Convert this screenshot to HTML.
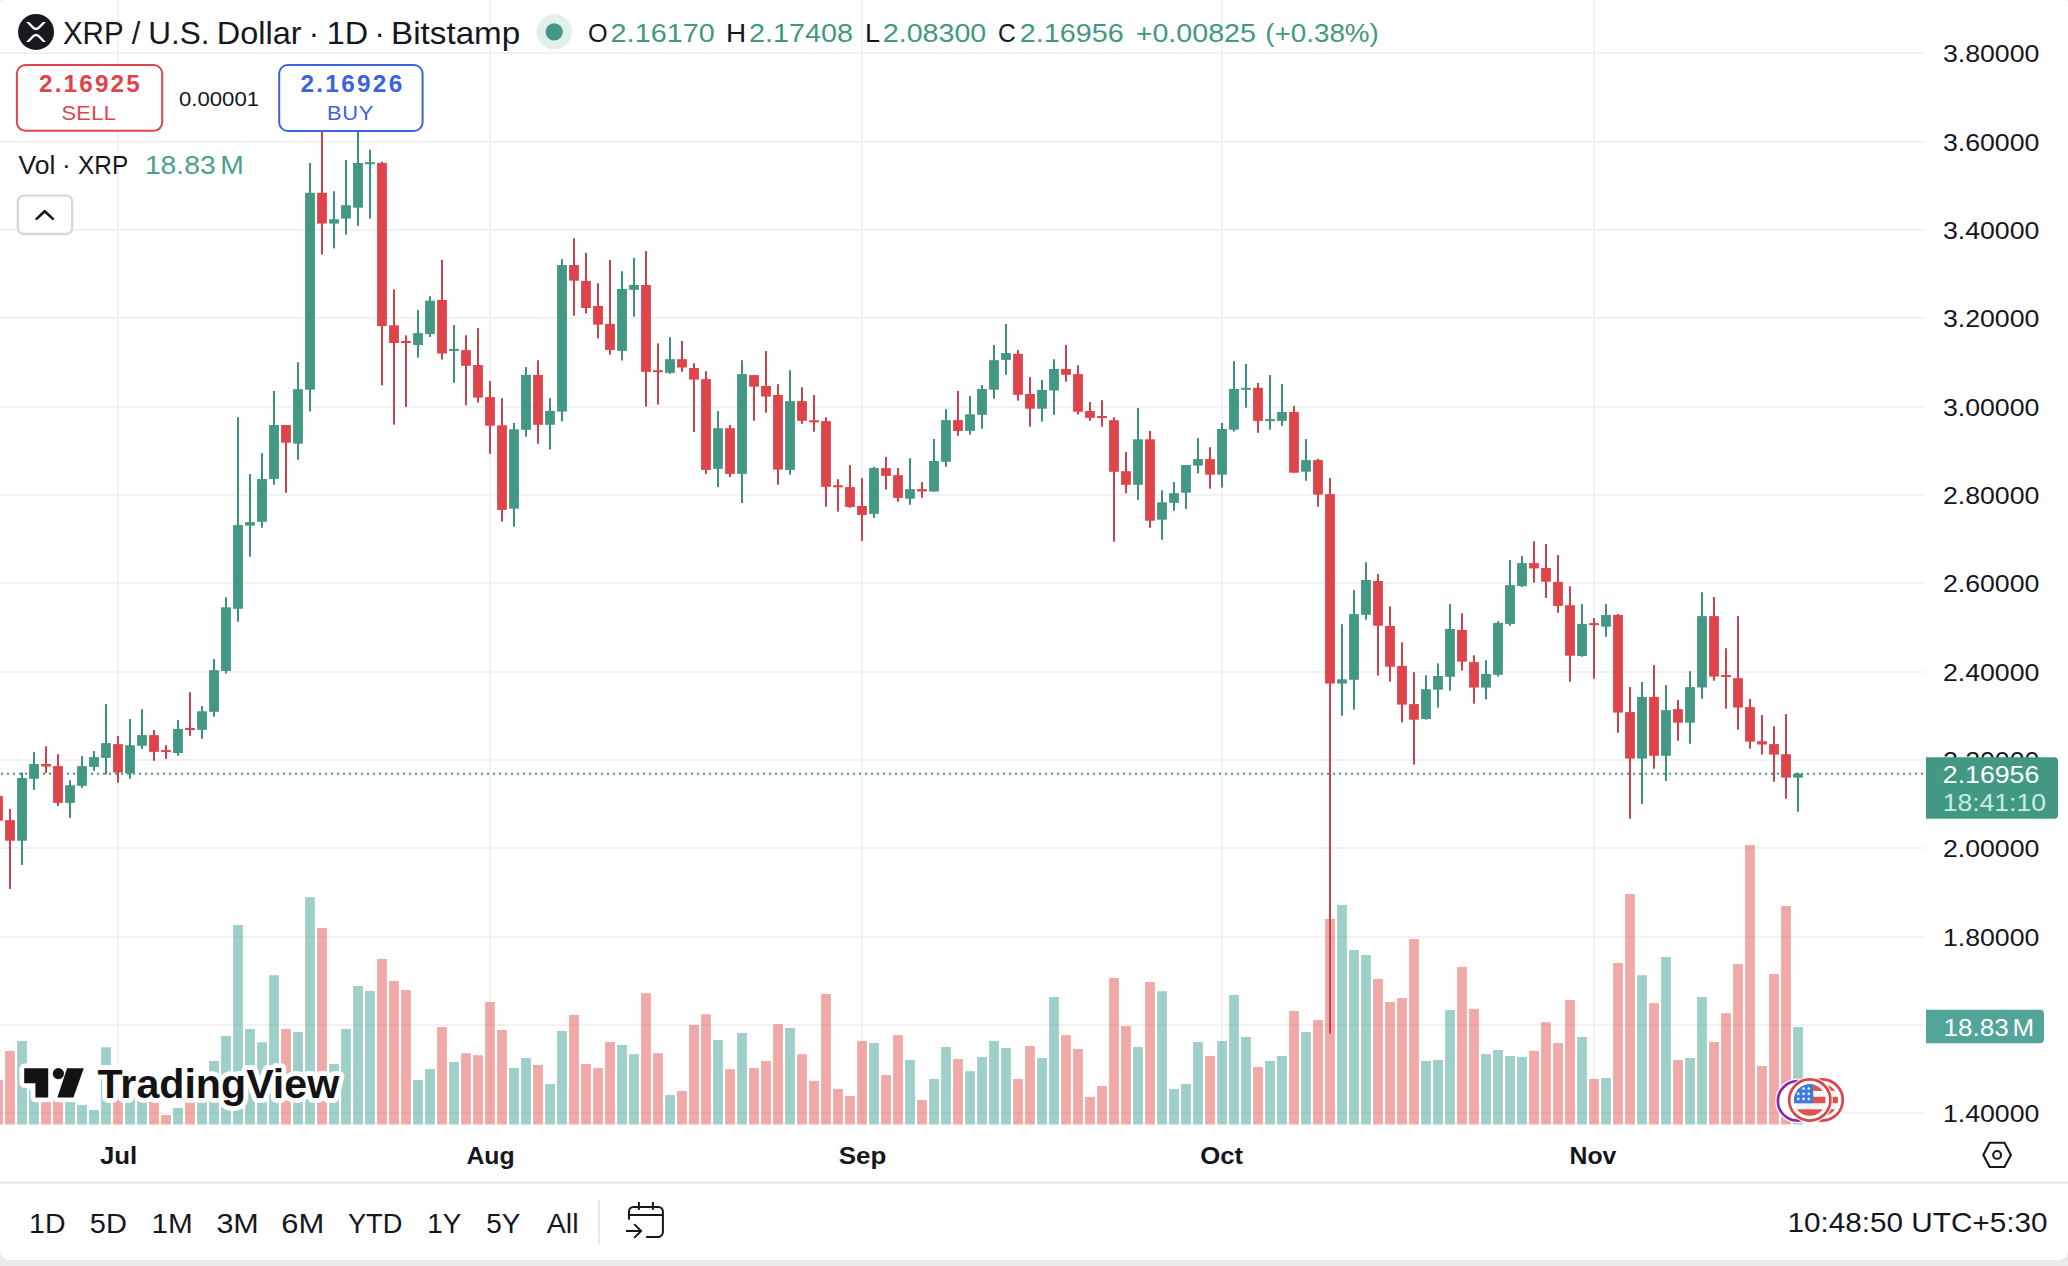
<!DOCTYPE html>
<html lang="en"><head><meta charset="utf-8"><title>XRP / U.S. Dollar · 1D · Bitstamp — TradingView</title>
<style>
html,body{margin:0;padding:0;background:#EAEAEC;}
body{width:2068px;height:1266px;overflow:hidden;position:relative;font-family:"Liberation Sans",sans-serif;}
#card{position:absolute;left:0;top:0;width:2068px;height:1260px;background:#fff;border-radius:4px 4px 9px 9px;overflow:hidden;}
svg{position:absolute;left:0;top:0;display:block;}
text{font-family:"Liberation Sans",sans-serif;}
.b{font-weight:bold;}
</style></head><body><div id="card">
<svg width="2068" height="1260" viewBox="0 0 2068 1260">
<g id="grid" fill="#F2F2F5">
<rect x="0" y="52" width="1924" height="2"/>
<rect x="0" y="141" width="1924" height="2"/>
<rect x="0" y="229" width="1924" height="2"/>
<rect x="0" y="317" width="1924" height="2"/>
<rect x="0" y="406" width="1924" height="2"/>
<rect x="0" y="494" width="1924" height="2"/>
<rect x="0" y="582" width="1924" height="2"/>
<rect x="0" y="671" width="1924" height="2"/>
<rect x="0" y="759" width="1924" height="2"/>
<rect x="0" y="847" width="1924" height="2"/>
<rect x="0" y="936" width="1924" height="2"/>
<rect x="0" y="1024" width="1924" height="2"/>
<rect x="0" y="1112" width="1924" height="2"/>
<rect x="117" y="0" width="2" height="1124"/>
<rect x="489" y="0" width="2" height="1124"/>
<rect x="861" y="0" width="2" height="1124"/>
<rect x="1221" y="0" width="2" height="1124"/>
<rect x="1593" y="0" width="2" height="1124"/>
</g>
<g id="volume">
<rect x="-6.9" y="1080.0" width="9.8" height="44.5" fill="rgba(226,84,80,0.5)"/>
<rect x="5.1" y="1051.0" width="9.8" height="73.5" fill="rgba(226,84,80,0.5)"/>
<rect x="17.1" y="1041.0" width="9.8" height="83.5" fill="rgba(62,160,148,0.5)"/>
<rect x="29.1" y="1090.0" width="9.8" height="34.5" fill="rgba(62,160,148,0.5)"/>
<rect x="41.1" y="1095.0" width="9.8" height="29.5" fill="rgba(226,84,80,0.5)"/>
<rect x="53.1" y="1095.0" width="9.8" height="29.5" fill="rgba(226,84,80,0.5)"/>
<rect x="65.1" y="1098.0" width="9.8" height="26.5" fill="rgba(62,160,148,0.5)"/>
<rect x="77.1" y="1105.0" width="9.8" height="19.5" fill="rgba(62,160,148,0.5)"/>
<rect x="89.1" y="1110.0" width="9.8" height="14.5" fill="rgba(62,160,148,0.5)"/>
<rect x="101.1" y="1047.3" width="9.8" height="77.2" fill="rgba(62,160,148,0.5)"/>
<rect x="113.1" y="1092.0" width="9.8" height="32.5" fill="rgba(226,84,80,0.5)"/>
<rect x="125.1" y="1085.0" width="9.8" height="39.5" fill="rgba(62,160,148,0.5)"/>
<rect x="137.1" y="1090.0" width="9.8" height="34.5" fill="rgba(62,160,148,0.5)"/>
<rect x="149.1" y="1095.0" width="9.8" height="29.5" fill="rgba(226,84,80,0.5)"/>
<rect x="161.1" y="1115.0" width="9.8" height="9.5" fill="rgba(226,84,80,0.5)"/>
<rect x="173.1" y="1108.0" width="9.8" height="16.5" fill="rgba(62,160,148,0.5)"/>
<rect x="185.1" y="1098.0" width="9.8" height="26.5" fill="rgba(226,84,80,0.5)"/>
<rect x="197.1" y="1095.0" width="9.8" height="29.5" fill="rgba(62,160,148,0.5)"/>
<rect x="209.1" y="1061.0" width="9.8" height="63.5" fill="rgba(62,160,148,0.5)"/>
<rect x="221.1" y="1036.0" width="9.8" height="88.5" fill="rgba(62,160,148,0.5)"/>
<rect x="233.1" y="925.0" width="9.8" height="199.5" fill="rgba(62,160,148,0.5)"/>
<rect x="245.1" y="1029.0" width="9.8" height="95.5" fill="rgba(62,160,148,0.5)"/>
<rect x="257.1" y="1042.3" width="9.8" height="82.2" fill="rgba(62,160,148,0.5)"/>
<rect x="269.1" y="975.2" width="9.8" height="149.3" fill="rgba(62,160,148,0.5)"/>
<rect x="281.1" y="1029.0" width="9.8" height="95.5" fill="rgba(226,84,80,0.5)"/>
<rect x="293.1" y="1032.0" width="9.8" height="92.5" fill="rgba(62,160,148,0.5)"/>
<rect x="305.1" y="897.2" width="9.8" height="227.3" fill="rgba(62,160,148,0.5)"/>
<rect x="317.1" y="928.0" width="9.8" height="196.5" fill="rgba(226,84,80,0.5)"/>
<rect x="329.1" y="1064.0" width="9.8" height="60.5" fill="rgba(62,160,148,0.5)"/>
<rect x="341.1" y="1029.0" width="9.8" height="95.5" fill="rgba(62,160,148,0.5)"/>
<rect x="353.1" y="986.0" width="9.8" height="138.5" fill="rgba(62,160,148,0.5)"/>
<rect x="365.1" y="991.0" width="9.8" height="133.5" fill="rgba(62,160,148,0.5)"/>
<rect x="377.1" y="959.0" width="9.8" height="165.5" fill="rgba(226,84,80,0.5)"/>
<rect x="389.1" y="981.0" width="9.8" height="143.5" fill="rgba(226,84,80,0.5)"/>
<rect x="401.1" y="990.0" width="9.8" height="134.5" fill="rgba(226,84,80,0.5)"/>
<rect x="413.1" y="1080.0" width="9.8" height="44.5" fill="rgba(62,160,148,0.5)"/>
<rect x="425.1" y="1069.0" width="9.8" height="55.5" fill="rgba(62,160,148,0.5)"/>
<rect x="437.1" y="1027.0" width="9.8" height="97.5" fill="rgba(226,84,80,0.5)"/>
<rect x="449.1" y="1062.0" width="9.8" height="62.5" fill="rgba(62,160,148,0.5)"/>
<rect x="461.1" y="1053.2" width="9.8" height="71.3" fill="rgba(226,84,80,0.5)"/>
<rect x="473.1" y="1055.2" width="9.8" height="69.3" fill="rgba(226,84,80,0.5)"/>
<rect x="485.1" y="1002.0" width="9.8" height="122.5" fill="rgba(226,84,80,0.5)"/>
<rect x="497.1" y="1030.0" width="9.8" height="94.5" fill="rgba(226,84,80,0.5)"/>
<rect x="509.1" y="1068.0" width="9.8" height="56.5" fill="rgba(62,160,148,0.5)"/>
<rect x="521.1" y="1058.0" width="9.8" height="66.5" fill="rgba(62,160,148,0.5)"/>
<rect x="533.1" y="1065.0" width="9.8" height="59.5" fill="rgba(226,84,80,0.5)"/>
<rect x="545.1" y="1084.0" width="9.8" height="40.5" fill="rgba(62,160,148,0.5)"/>
<rect x="557.1" y="1031.0" width="9.8" height="93.5" fill="rgba(62,160,148,0.5)"/>
<rect x="569.1" y="1015.0" width="9.8" height="109.5" fill="rgba(226,84,80,0.5)"/>
<rect x="581.1" y="1064.0" width="9.8" height="60.5" fill="rgba(226,84,80,0.5)"/>
<rect x="593.1" y="1068.0" width="9.8" height="56.5" fill="rgba(226,84,80,0.5)"/>
<rect x="605.1" y="1042.0" width="9.8" height="82.5" fill="rgba(226,84,80,0.5)"/>
<rect x="617.1" y="1045.0" width="9.8" height="79.5" fill="rgba(62,160,148,0.5)"/>
<rect x="629.1" y="1054.2" width="9.8" height="70.3" fill="rgba(62,160,148,0.5)"/>
<rect x="641.1" y="993.2" width="9.8" height="131.3" fill="rgba(226,84,80,0.5)"/>
<rect x="653.1" y="1053.2" width="9.8" height="71.3" fill="rgba(226,84,80,0.5)"/>
<rect x="665.1" y="1095.0" width="9.8" height="29.5" fill="rgba(62,160,148,0.5)"/>
<rect x="677.1" y="1091.0" width="9.8" height="33.5" fill="rgba(226,84,80,0.5)"/>
<rect x="689.1" y="1024.9" width="9.8" height="99.6" fill="rgba(226,84,80,0.5)"/>
<rect x="701.1" y="1014.3" width="9.8" height="110.2" fill="rgba(226,84,80,0.5)"/>
<rect x="713.1" y="1040.0" width="9.8" height="84.5" fill="rgba(62,160,148,0.5)"/>
<rect x="725.1" y="1069.2" width="9.8" height="55.3" fill="rgba(226,84,80,0.5)"/>
<rect x="737.1" y="1033.0" width="9.8" height="91.5" fill="rgba(62,160,148,0.5)"/>
<rect x="749.1" y="1068.0" width="9.8" height="56.5" fill="rgba(226,84,80,0.5)"/>
<rect x="761.1" y="1061.0" width="9.8" height="63.5" fill="rgba(226,84,80,0.5)"/>
<rect x="773.1" y="1024.2" width="9.8" height="100.3" fill="rgba(226,84,80,0.5)"/>
<rect x="785.1" y="1028.0" width="9.8" height="96.5" fill="rgba(62,160,148,0.5)"/>
<rect x="797.1" y="1054.2" width="9.8" height="70.3" fill="rgba(226,84,80,0.5)"/>
<rect x="809.1" y="1081.0" width="9.8" height="43.5" fill="rgba(226,84,80,0.5)"/>
<rect x="821.1" y="994.0" width="9.8" height="130.5" fill="rgba(226,84,80,0.5)"/>
<rect x="833.1" y="1089.0" width="9.8" height="35.5" fill="rgba(226,84,80,0.5)"/>
<rect x="845.1" y="1096.0" width="9.8" height="28.5" fill="rgba(226,84,80,0.5)"/>
<rect x="857.1" y="1041.0" width="9.8" height="83.5" fill="rgba(226,84,80,0.5)"/>
<rect x="869.1" y="1043.0" width="9.8" height="81.5" fill="rgba(62,160,148,0.5)"/>
<rect x="881.1" y="1075.0" width="9.8" height="49.5" fill="rgba(226,84,80,0.5)"/>
<rect x="893.1" y="1035.2" width="9.8" height="89.3" fill="rgba(226,84,80,0.5)"/>
<rect x="905.1" y="1060.0" width="9.8" height="64.5" fill="rgba(62,160,148,0.5)"/>
<rect x="917.1" y="1100.0" width="9.8" height="24.5" fill="rgba(226,84,80,0.5)"/>
<rect x="929.1" y="1079.0" width="9.8" height="45.5" fill="rgba(62,160,148,0.5)"/>
<rect x="941.1" y="1047.0" width="9.8" height="77.5" fill="rgba(62,160,148,0.5)"/>
<rect x="953.1" y="1059.0" width="9.8" height="65.5" fill="rgba(226,84,80,0.5)"/>
<rect x="965.1" y="1071.2" width="9.8" height="53.3" fill="rgba(62,160,148,0.5)"/>
<rect x="977.1" y="1057.0" width="9.8" height="67.5" fill="rgba(62,160,148,0.5)"/>
<rect x="989.1" y="1041.0" width="9.8" height="83.5" fill="rgba(62,160,148,0.5)"/>
<rect x="1001.1" y="1048.0" width="9.8" height="76.5" fill="rgba(62,160,148,0.5)"/>
<rect x="1013.1" y="1079.0" width="9.8" height="45.5" fill="rgba(226,84,80,0.5)"/>
<rect x="1025.1" y="1046.0" width="9.8" height="78.5" fill="rgba(226,84,80,0.5)"/>
<rect x="1037.1" y="1058.0" width="9.8" height="66.5" fill="rgba(62,160,148,0.5)"/>
<rect x="1049.1" y="997.0" width="9.8" height="127.5" fill="rgba(62,160,148,0.5)"/>
<rect x="1061.1" y="1035.2" width="9.8" height="89.3" fill="rgba(226,84,80,0.5)"/>
<rect x="1073.1" y="1049.0" width="9.8" height="75.5" fill="rgba(226,84,80,0.5)"/>
<rect x="1085.1" y="1097.0" width="9.8" height="27.5" fill="rgba(226,84,80,0.5)"/>
<rect x="1097.1" y="1086.0" width="9.8" height="38.5" fill="rgba(226,84,80,0.5)"/>
<rect x="1109.1" y="978.0" width="9.8" height="146.5" fill="rgba(226,84,80,0.5)"/>
<rect x="1121.1" y="1026.0" width="9.8" height="98.5" fill="rgba(226,84,80,0.5)"/>
<rect x="1133.1" y="1047.0" width="9.8" height="77.5" fill="rgba(62,160,148,0.5)"/>
<rect x="1145.1" y="982.0" width="9.8" height="142.5" fill="rgba(226,84,80,0.5)"/>
<rect x="1157.1" y="991.2" width="9.8" height="133.3" fill="rgba(62,160,148,0.5)"/>
<rect x="1169.1" y="1089.0" width="9.8" height="35.5" fill="rgba(62,160,148,0.5)"/>
<rect x="1181.1" y="1084.0" width="9.8" height="40.5" fill="rgba(62,160,148,0.5)"/>
<rect x="1193.1" y="1042.0" width="9.8" height="82.5" fill="rgba(62,160,148,0.5)"/>
<rect x="1205.1" y="1056.0" width="9.8" height="68.5" fill="rgba(226,84,80,0.5)"/>
<rect x="1217.1" y="1041.0" width="9.8" height="83.5" fill="rgba(62,160,148,0.5)"/>
<rect x="1229.1" y="995.0" width="9.8" height="129.5" fill="rgba(62,160,148,0.5)"/>
<rect x="1241.1" y="1037.0" width="9.8" height="87.5" fill="rgba(62,160,148,0.5)"/>
<rect x="1253.1" y="1067.0" width="9.8" height="57.5" fill="rgba(226,84,80,0.5)"/>
<rect x="1265.1" y="1061.0" width="9.8" height="63.5" fill="rgba(62,160,148,0.5)"/>
<rect x="1277.1" y="1056.0" width="9.8" height="68.5" fill="rgba(62,160,148,0.5)"/>
<rect x="1289.1" y="1011.0" width="9.8" height="113.5" fill="rgba(226,84,80,0.5)"/>
<rect x="1301.1" y="1032.0" width="9.8" height="92.5" fill="rgba(62,160,148,0.5)"/>
<rect x="1313.1" y="1020.0" width="9.8" height="104.5" fill="rgba(226,84,80,0.5)"/>
<rect x="1325.1" y="919.0" width="9.8" height="205.5" fill="rgba(226,84,80,0.5)"/>
<rect x="1337.1" y="905.0" width="9.8" height="219.5" fill="rgba(62,160,148,0.5)"/>
<rect x="1349.1" y="950.0" width="9.8" height="174.5" fill="rgba(62,160,148,0.5)"/>
<rect x="1361.1" y="955.0" width="9.8" height="169.5" fill="rgba(62,160,148,0.5)"/>
<rect x="1373.1" y="979.0" width="9.8" height="145.5" fill="rgba(226,84,80,0.5)"/>
<rect x="1385.1" y="1002.0" width="9.8" height="122.5" fill="rgba(226,84,80,0.5)"/>
<rect x="1397.1" y="998.0" width="9.8" height="126.5" fill="rgba(226,84,80,0.5)"/>
<rect x="1409.1" y="939.0" width="9.8" height="185.5" fill="rgba(226,84,80,0.5)"/>
<rect x="1421.1" y="1061.0" width="9.8" height="63.5" fill="rgba(62,160,148,0.5)"/>
<rect x="1433.1" y="1060.0" width="9.8" height="64.5" fill="rgba(62,160,148,0.5)"/>
<rect x="1445.1" y="1010.0" width="9.8" height="114.5" fill="rgba(62,160,148,0.5)"/>
<rect x="1457.1" y="967.0" width="9.8" height="157.5" fill="rgba(226,84,80,0.5)"/>
<rect x="1469.1" y="1009.0" width="9.8" height="115.5" fill="rgba(226,84,80,0.5)"/>
<rect x="1481.1" y="1054.2" width="9.8" height="70.3" fill="rgba(62,160,148,0.5)"/>
<rect x="1493.1" y="1050.0" width="9.8" height="74.5" fill="rgba(62,160,148,0.5)"/>
<rect x="1505.1" y="1056.0" width="9.8" height="68.5" fill="rgba(62,160,148,0.5)"/>
<rect x="1517.1" y="1057.0" width="9.8" height="67.5" fill="rgba(62,160,148,0.5)"/>
<rect x="1529.1" y="1051.0" width="9.8" height="73.5" fill="rgba(226,84,80,0.5)"/>
<rect x="1541.1" y="1022.2" width="9.8" height="102.3" fill="rgba(226,84,80,0.5)"/>
<rect x="1553.1" y="1043.0" width="9.8" height="81.5" fill="rgba(226,84,80,0.5)"/>
<rect x="1565.1" y="1000.0" width="9.8" height="124.5" fill="rgba(226,84,80,0.5)"/>
<rect x="1577.1" y="1037.0" width="9.8" height="87.5" fill="rgba(62,160,148,0.5)"/>
<rect x="1589.1" y="1079.0" width="9.8" height="45.5" fill="rgba(226,84,80,0.5)"/>
<rect x="1601.1" y="1078.0" width="9.8" height="46.5" fill="rgba(62,160,148,0.5)"/>
<rect x="1613.1" y="963.0" width="9.8" height="161.5" fill="rgba(226,84,80,0.5)"/>
<rect x="1625.1" y="894.0" width="9.8" height="230.5" fill="rgba(226,84,80,0.5)"/>
<rect x="1637.1" y="975.2" width="9.8" height="149.3" fill="rgba(62,160,148,0.5)"/>
<rect x="1649.1" y="1003.2" width="9.8" height="121.3" fill="rgba(226,84,80,0.5)"/>
<rect x="1661.1" y="957.0" width="9.8" height="167.5" fill="rgba(62,160,148,0.5)"/>
<rect x="1673.1" y="1060.0" width="9.8" height="64.5" fill="rgba(226,84,80,0.5)"/>
<rect x="1685.1" y="1058.0" width="9.8" height="66.5" fill="rgba(62,160,148,0.5)"/>
<rect x="1697.1" y="997.0" width="9.8" height="127.5" fill="rgba(62,160,148,0.5)"/>
<rect x="1709.1" y="1042.0" width="9.8" height="82.5" fill="rgba(226,84,80,0.5)"/>
<rect x="1721.1" y="1013.2" width="9.8" height="111.3" fill="rgba(226,84,80,0.5)"/>
<rect x="1733.1" y="964.0" width="9.8" height="160.5" fill="rgba(226,84,80,0.5)"/>
<rect x="1745.1" y="845.0" width="9.8" height="279.5" fill="rgba(226,84,80,0.5)"/>
<rect x="1757.1" y="1066.0" width="9.8" height="58.5" fill="rgba(226,84,80,0.5)"/>
<rect x="1769.1" y="974.0" width="9.8" height="150.5" fill="rgba(226,84,80,0.5)"/>
<rect x="1781.1" y="906.0" width="9.8" height="218.5" fill="rgba(226,84,80,0.5)"/>
<rect x="1793.1" y="1027.0" width="9.8" height="97.5" fill="rgba(62,160,148,0.5)"/>
</g>
<line id="priceline" x1="1" y1="773.7" x2="1924" y2="773.7" stroke="#429882" stroke-width="2" stroke-dasharray="2 4"/>
<g id="candles">
<rect x="-3.0" y="790.0" width="2" height="36.0" fill="#C8434A"/><rect x="-6.9" y="796.1" width="9.8" height="24.6" fill="#E0444B"/>
<rect x="9.0" y="809.0" width="2" height="79.9" fill="#C8434A"/><rect x="5.1" y="820.1" width="9.8" height="20.6" fill="#E0444B"/>
<rect x="21.0" y="772.5" width="2" height="92.4" fill="#3E8F7A"/><rect x="17.1" y="778.0" width="9.8" height="62.7" fill="#429882"/>
<rect x="33.0" y="752.1" width="2" height="37.8" fill="#3E8F7A"/><rect x="29.1" y="764.0" width="9.8" height="14.8" fill="#429882"/>
<rect x="45.0" y="746.2" width="2" height="26.9" fill="#C8434A"/><rect x="41.1" y="764.0" width="9.8" height="2.5" fill="#E0444B"/>
<rect x="57.0" y="754.2" width="2" height="51.7" fill="#C8434A"/><rect x="53.1" y="766.1" width="9.8" height="36.8" fill="#E0444B"/>
<rect x="69.0" y="780.3" width="2" height="37.6" fill="#3E8F7A"/><rect x="65.1" y="785.2" width="9.8" height="17.7" fill="#429882"/>
<rect x="81.0" y="756.2" width="2" height="31.7" fill="#3E8F7A"/><rect x="77.1" y="766.1" width="9.8" height="19.7" fill="#429882"/>
<rect x="93.0" y="751.1" width="2" height="19.7" fill="#3E8F7A"/><rect x="89.1" y="757.1" width="9.8" height="9.8" fill="#429882"/>
<rect x="105.0" y="704.1" width="2" height="70.4" fill="#3E8F7A"/><rect x="101.1" y="743.1" width="9.8" height="14.8" fill="#429882"/>
<rect x="117.0" y="736.1" width="2" height="46.6" fill="#C8434A"/><rect x="113.1" y="744.1" width="9.8" height="28.4" fill="#E0444B"/>
<rect x="129.0" y="719.1" width="2" height="59.7" fill="#3E8F7A"/><rect x="125.1" y="745.2" width="9.8" height="28.3" fill="#429882"/>
<rect x="141.0" y="709.2" width="2" height="39.7" fill="#3E8F7A"/><rect x="137.1" y="735.1" width="9.8" height="10.7" fill="#429882"/>
<rect x="153.0" y="730.0" width="2" height="30.8" fill="#C8434A"/><rect x="149.1" y="735.1" width="9.8" height="16.8" fill="#E0444B"/>
<rect x="165.0" y="745.2" width="2" height="13.7" fill="#C8434A"/><rect x="161.1" y="750.1" width="9.8" height="2.0" fill="#E0444B"/>
<rect x="177.0" y="720.1" width="2" height="35.7" fill="#3E8F7A"/><rect x="173.1" y="728.9" width="9.8" height="24.1" fill="#429882"/>
<rect x="189.0" y="692.2" width="2" height="43.7" fill="#C8434A"/><rect x="185.1" y="727.9" width="9.8" height="2.1" fill="#E0444B"/>
<rect x="201.0" y="706.1" width="2" height="32.7" fill="#3E8F7A"/><rect x="197.1" y="711.3" width="9.8" height="18.5" fill="#429882"/>
<rect x="213.0" y="659.1" width="2" height="57.5" fill="#3E8F7A"/><rect x="209.1" y="670.1" width="9.8" height="41.7" fill="#429882"/>
<rect x="225.0" y="597.2" width="2" height="76.4" fill="#3E8F7A"/><rect x="221.1" y="607.3" width="9.8" height="63.7" fill="#429882"/>
<rect x="237.0" y="417.2" width="2" height="204.5" fill="#3E8F7A"/><rect x="233.1" y="525.1" width="9.8" height="83.7" fill="#429882"/>
<rect x="249.0" y="474.1" width="2" height="82.6" fill="#3E8F7A"/><rect x="245.1" y="522.1" width="9.8" height="3.5" fill="#429882"/>
<rect x="261.0" y="453.1" width="2" height="74.6" fill="#3E8F7A"/><rect x="257.1" y="479.1" width="9.8" height="42.7" fill="#429882"/>
<rect x="273.0" y="391.0" width="2" height="93.7" fill="#3E8F7A"/><rect x="269.1" y="425.0" width="9.8" height="53.9" fill="#429882"/>
<rect x="285.0" y="425.0" width="2" height="67.8" fill="#C8434A"/><rect x="281.1" y="425.0" width="9.8" height="17.7" fill="#E0444B"/>
<rect x="297.0" y="362.2" width="2" height="97.5" fill="#3E8F7A"/><rect x="293.1" y="389.2" width="9.8" height="54.5" fill="#429882"/>
<rect x="309.0" y="163.0" width="2" height="248.5" fill="#3E8F7A"/><rect x="305.1" y="192.8" width="9.8" height="196.9" fill="#429882"/>
<rect x="321.0" y="126.0" width="2" height="128.5" fill="#C8434A"/><rect x="317.1" y="192.8" width="9.8" height="30.8" fill="#E0444B"/>
<rect x="333.0" y="191.3" width="2" height="57.1" fill="#3E8F7A"/><rect x="329.1" y="219.3" width="9.8" height="4.3" fill="#429882"/>
<rect x="345.0" y="159.9" width="2" height="74.6" fill="#3E8F7A"/><rect x="341.1" y="205.2" width="9.8" height="13.4" fill="#429882"/>
<rect x="357.0" y="126.0" width="2" height="99.7" fill="#3E8F7A"/><rect x="353.1" y="163.0" width="9.8" height="44.7" fill="#429882"/>
<rect x="369.0" y="149.8" width="2" height="68.8" fill="#3E8F7A"/><rect x="365.1" y="162.2" width="9.8" height="2.0" fill="#429882"/>
<rect x="381.0" y="161.7" width="2" height="223.7" fill="#C8434A"/><rect x="377.1" y="163.0" width="9.8" height="163.0" fill="#E0444B"/>
<rect x="393.0" y="289.4" width="2" height="135.2" fill="#C8434A"/><rect x="389.1" y="325.3" width="9.8" height="17.7" fill="#E0444B"/>
<rect x="405.0" y="335.4" width="2" height="71.5" fill="#C8434A"/><rect x="401.1" y="340.9" width="9.8" height="2.1" fill="#E0444B"/>
<rect x="417.0" y="310.1" width="2" height="47.5" fill="#3E8F7A"/><rect x="413.1" y="333.1" width="9.8" height="11.9" fill="#429882"/>
<rect x="429.0" y="296.2" width="2" height="40.7" fill="#3E8F7A"/><rect x="425.1" y="300.7" width="9.8" height="33.4" fill="#429882"/>
<rect x="441.0" y="259.8" width="2" height="99.7" fill="#C8434A"/><rect x="437.1" y="300.0" width="9.8" height="53.5" fill="#E0444B"/>
<rect x="453.0" y="325.0" width="2" height="57.7" fill="#3E8F7A"/><rect x="449.1" y="348.9" width="9.8" height="2.0" fill="#429882"/>
<rect x="465.0" y="335.2" width="2" height="70.2" fill="#C8434A"/><rect x="461.1" y="350.1" width="9.8" height="15.7" fill="#E0444B"/>
<rect x="477.0" y="328.1" width="2" height="74.4" fill="#C8434A"/><rect x="473.1" y="365.0" width="9.8" height="32.6" fill="#E0444B"/>
<rect x="489.0" y="381.0" width="2" height="72.8" fill="#C8434A"/><rect x="485.1" y="397.1" width="9.8" height="28.6" fill="#E0444B"/>
<rect x="501.0" y="398.2" width="2" height="123.4" fill="#C8434A"/><rect x="497.1" y="425.3" width="9.8" height="84.6" fill="#E0444B"/>
<rect x="513.0" y="423.0" width="2" height="103.6" fill="#3E8F7A"/><rect x="509.1" y="429.3" width="9.8" height="79.4" fill="#429882"/>
<rect x="525.0" y="367.1" width="2" height="69.5" fill="#3E8F7A"/><rect x="521.1" y="375.0" width="9.8" height="54.8" fill="#429882"/>
<rect x="537.0" y="360.3" width="2" height="83.4" fill="#C8434A"/><rect x="533.1" y="375.0" width="9.8" height="49.8" fill="#E0444B"/>
<rect x="549.0" y="398.2" width="2" height="51.3" fill="#3E8F7A"/><rect x="545.1" y="410.9" width="9.8" height="13.9" fill="#429882"/>
<rect x="561.0" y="259.2" width="2" height="162.3" fill="#3E8F7A"/><rect x="557.1" y="265.0" width="9.8" height="146.6" fill="#429882"/>
<rect x="573.0" y="238.2" width="2" height="77.4" fill="#C8434A"/><rect x="569.1" y="265.0" width="9.8" height="15.7" fill="#E0444B"/>
<rect x="585.0" y="252.9" width="2" height="60.6" fill="#C8434A"/><rect x="581.1" y="280.9" width="9.8" height="27.1" fill="#E0444B"/>
<rect x="597.0" y="283.2" width="2" height="55.1" fill="#C8434A"/><rect x="593.1" y="305.9" width="9.8" height="18.8" fill="#E0444B"/>
<rect x="609.0" y="259.9" width="2" height="94.8" fill="#C8434A"/><rect x="605.1" y="323.9" width="9.8" height="26.0" fill="#E0444B"/>
<rect x="621.0" y="271.3" width="2" height="89.2" fill="#3E8F7A"/><rect x="617.1" y="289.0" width="9.8" height="61.9" fill="#429882"/>
<rect x="633.0" y="257.9" width="2" height="58.7" fill="#3E8F7A"/><rect x="629.1" y="285.0" width="9.8" height="4.8" fill="#429882"/>
<rect x="645.0" y="251.1" width="2" height="155.5" fill="#C8434A"/><rect x="641.1" y="285.0" width="9.8" height="86.9" fill="#E0444B"/>
<rect x="657.0" y="343.4" width="2" height="61.1" fill="#C8434A"/><rect x="653.1" y="370.2" width="9.8" height="2.0" fill="#E0444B"/>
<rect x="669.0" y="337.1" width="2" height="36.7" fill="#3E8F7A"/><rect x="665.1" y="359.2" width="9.8" height="13.6" fill="#429882"/>
<rect x="681.0" y="341.0" width="2" height="30.8" fill="#C8434A"/><rect x="677.1" y="359.2" width="9.8" height="8.3" fill="#E0444B"/>
<rect x="693.0" y="363.2" width="2" height="68.8" fill="#C8434A"/><rect x="689.1" y="368.0" width="9.8" height="11.6" fill="#E0444B"/>
<rect x="705.0" y="371.3" width="2" height="102.6" fill="#C8434A"/><rect x="701.1" y="379.1" width="9.8" height="90.8" fill="#E0444B"/>
<rect x="717.0" y="411.2" width="2" height="75.9" fill="#3E8F7A"/><rect x="713.1" y="428.2" width="9.8" height="40.7" fill="#429882"/>
<rect x="729.0" y="425.1" width="2" height="51.9" fill="#C8434A"/><rect x="725.1" y="428.2" width="9.8" height="45.7" fill="#E0444B"/>
<rect x="741.0" y="360.2" width="2" height="142.8" fill="#3E8F7A"/><rect x="737.1" y="374.1" width="9.8" height="99.8" fill="#429882"/>
<rect x="753.0" y="375.1" width="2" height="45.7" fill="#C8434A"/><rect x="749.1" y="375.1" width="9.8" height="11.6" fill="#E0444B"/>
<rect x="765.0" y="351.1" width="2" height="61.6" fill="#C8434A"/><rect x="761.1" y="386.0" width="9.8" height="10.6" fill="#E0444B"/>
<rect x="777.0" y="384.2" width="2" height="100.6" fill="#C8434A"/><rect x="773.1" y="395.0" width="9.8" height="74.6" fill="#E0444B"/>
<rect x="789.0" y="370.3" width="2" height="104.4" fill="#3E8F7A"/><rect x="785.1" y="401.1" width="9.8" height="68.8" fill="#429882"/>
<rect x="801.0" y="387.2" width="2" height="36.7" fill="#C8434A"/><rect x="797.1" y="401.1" width="9.8" height="19.7" fill="#E0444B"/>
<rect x="813.0" y="395.0" width="2" height="36.7" fill="#C8434A"/><rect x="809.1" y="420.3" width="9.8" height="2.0" fill="#E0444B"/>
<rect x="825.0" y="417.3" width="2" height="89.5" fill="#C8434A"/><rect x="821.1" y="421.1" width="9.8" height="65.7" fill="#E0444B"/>
<rect x="837.0" y="479.2" width="2" height="32.4" fill="#C8434A"/><rect x="833.1" y="485.3" width="9.8" height="2.0" fill="#E0444B"/>
<rect x="849.0" y="465.1" width="2" height="42.7" fill="#C8434A"/><rect x="845.1" y="487.1" width="9.8" height="19.9" fill="#E0444B"/>
<rect x="861.0" y="478.2" width="2" height="62.7" fill="#C8434A"/><rect x="857.1" y="506.0" width="9.8" height="8.9" fill="#E0444B"/>
<rect x="873.0" y="466.8" width="2" height="51.1" fill="#3E8F7A"/><rect x="869.1" y="468.1" width="9.8" height="45.8" fill="#429882"/>
<rect x="885.0" y="457.0" width="2" height="32.6" fill="#C8434A"/><rect x="881.1" y="468.1" width="9.8" height="7.8" fill="#E0444B"/>
<rect x="897.0" y="468.1" width="2" height="33.6" fill="#C8434A"/><rect x="893.1" y="475.2" width="9.8" height="22.7" fill="#E0444B"/>
<rect x="909.0" y="458.2" width="2" height="46.6" fill="#3E8F7A"/><rect x="905.1" y="489.1" width="9.8" height="9.6" fill="#429882"/>
<rect x="921.0" y="482.0" width="2" height="15.7" fill="#C8434A"/><rect x="917.1" y="489.1" width="9.8" height="2.3" fill="#E0444B"/>
<rect x="933.0" y="439.0" width="2" height="52.6" fill="#3E8F7A"/><rect x="929.1" y="461.0" width="9.8" height="30.6" fill="#429882"/>
<rect x="945.0" y="409.2" width="2" height="57.6" fill="#3E8F7A"/><rect x="941.1" y="420.1" width="9.8" height="41.7" fill="#429882"/>
<rect x="957.0" y="391.0" width="2" height="44.7" fill="#C8434A"/><rect x="953.1" y="420.1" width="9.8" height="10.8" fill="#E0444B"/>
<rect x="969.0" y="396.1" width="2" height="38.6" fill="#3E8F7A"/><rect x="965.1" y="414.3" width="9.8" height="16.6" fill="#429882"/>
<rect x="981.0" y="385.2" width="2" height="43.5" fill="#3E8F7A"/><rect x="977.1" y="389.0" width="9.8" height="25.8" fill="#429882"/>
<rect x="993.0" y="345.0" width="2" height="53.6" fill="#3E8F7A"/><rect x="989.1" y="360.2" width="9.8" height="29.5" fill="#429882"/>
<rect x="1005.0" y="324.0" width="2" height="50.8" fill="#3E8F7A"/><rect x="1001.1" y="353.1" width="9.8" height="6.8" fill="#429882"/>
<rect x="1017.0" y="350.1" width="2" height="50.5" fill="#C8434A"/><rect x="1013.1" y="353.8" width="9.8" height="41.0" fill="#E0444B"/>
<rect x="1029.0" y="377.1" width="2" height="49.5" fill="#C8434A"/><rect x="1025.1" y="394.0" width="9.8" height="14.7" fill="#E0444B"/>
<rect x="1041.0" y="380.1" width="2" height="41.5" fill="#3E8F7A"/><rect x="1037.1" y="390.0" width="9.8" height="18.7" fill="#429882"/>
<rect x="1053.0" y="359.2" width="2" height="55.6" fill="#3E8F7A"/><rect x="1049.1" y="369.0" width="9.8" height="21.5" fill="#429882"/>
<rect x="1065.0" y="345.0" width="2" height="36.6" fill="#C8434A"/><rect x="1061.1" y="369.0" width="9.8" height="5.8" fill="#E0444B"/>
<rect x="1077.0" y="365.2" width="2" height="49.3" fill="#C8434A"/><rect x="1073.1" y="374.1" width="9.8" height="37.6" fill="#E0444B"/>
<rect x="1089.0" y="402.1" width="2" height="18.7" fill="#C8434A"/><rect x="1085.1" y="411.0" width="9.8" height="6.8" fill="#E0444B"/>
<rect x="1101.0" y="400.1" width="2" height="26.5" fill="#C8434A"/><rect x="1097.1" y="416.0" width="9.8" height="2.0" fill="#E0444B"/>
<rect x="1113.0" y="417.2" width="2" height="124.5" fill="#C8434A"/><rect x="1109.1" y="420.2" width="9.8" height="51.6" fill="#E0444B"/>
<rect x="1125.0" y="452.0" width="2" height="41.4" fill="#C8434A"/><rect x="1121.1" y="471.2" width="9.8" height="13.6" fill="#E0444B"/>
<rect x="1137.0" y="408.0" width="2" height="91.8" fill="#3E8F7A"/><rect x="1133.1" y="439.3" width="9.8" height="45.5" fill="#429882"/>
<rect x="1149.0" y="431.0" width="2" height="96.8" fill="#C8434A"/><rect x="1145.1" y="439.3" width="9.8" height="81.4" fill="#E0444B"/>
<rect x="1161.0" y="490.2" width="2" height="49.5" fill="#3E8F7A"/><rect x="1157.1" y="502.3" width="9.8" height="17.4" fill="#429882"/>
<rect x="1173.0" y="482.1" width="2" height="28.5" fill="#3E8F7A"/><rect x="1169.1" y="493.2" width="9.8" height="9.6" fill="#429882"/>
<rect x="1185.0" y="465.1" width="2" height="43.8" fill="#3E8F7A"/><rect x="1181.1" y="465.1" width="9.8" height="27.6" fill="#429882"/>
<rect x="1197.0" y="438.1" width="2" height="35.4" fill="#3E8F7A"/><rect x="1193.1" y="459.1" width="9.8" height="6.5" fill="#429882"/>
<rect x="1209.0" y="447.2" width="2" height="41.4" fill="#C8434A"/><rect x="1205.1" y="459.1" width="9.8" height="15.6" fill="#E0444B"/>
<rect x="1221.0" y="422.9" width="2" height="64.7" fill="#3E8F7A"/><rect x="1217.1" y="429.0" width="9.8" height="45.7" fill="#429882"/>
<rect x="1233.0" y="361.2" width="2" height="70.3" fill="#3E8F7A"/><rect x="1229.1" y="389.0" width="9.8" height="40.7" fill="#429882"/>
<rect x="1245.0" y="364.0" width="2" height="43.7" fill="#3E8F7A"/><rect x="1241.1" y="387.8" width="9.8" height="2.0" fill="#429882"/>
<rect x="1257.0" y="383.0" width="2" height="49.8" fill="#C8434A"/><rect x="1253.1" y="387.8" width="9.8" height="33.1" fill="#E0444B"/>
<rect x="1269.0" y="375.1" width="2" height="54.6" fill="#3E8F7A"/><rect x="1265.1" y="419.1" width="9.8" height="2.0" fill="#429882"/>
<rect x="1281.0" y="384.0" width="2" height="41.9" fill="#3E8F7A"/><rect x="1277.1" y="412.0" width="9.8" height="8.9" fill="#429882"/>
<rect x="1293.0" y="406.2" width="2" height="66.5" fill="#C8434A"/><rect x="1289.1" y="412.0" width="9.8" height="60.7" fill="#E0444B"/>
<rect x="1305.0" y="439.1" width="2" height="41.7" fill="#3E8F7A"/><rect x="1301.1" y="460.1" width="9.8" height="11.6" fill="#429882"/>
<rect x="1317.0" y="458.8" width="2" height="48.0" fill="#C8434A"/><rect x="1313.1" y="460.1" width="9.8" height="34.5" fill="#E0444B"/>
<rect x="1329.0" y="478.1" width="2" height="555.6" fill="#C8434A"/><rect x="1325.1" y="494.1" width="9.8" height="189.5" fill="#E0444B"/>
<rect x="1341.0" y="624.2" width="2" height="91.5" fill="#3E8F7A"/><rect x="1337.1" y="679.3" width="9.8" height="4.3" fill="#429882"/>
<rect x="1353.0" y="590.1" width="2" height="119.5" fill="#3E8F7A"/><rect x="1349.1" y="614.1" width="9.8" height="65.7" fill="#429882"/>
<rect x="1365.0" y="562.3" width="2" height="57.3" fill="#3E8F7A"/><rect x="1361.1" y="580.0" width="9.8" height="34.8" fill="#429882"/>
<rect x="1377.0" y="574.1" width="2" height="101.4" fill="#C8434A"/><rect x="1373.1" y="581.0" width="9.8" height="44.7" fill="#E0444B"/>
<rect x="1389.0" y="606.5" width="2" height="75.1" fill="#C8434A"/><rect x="1385.1" y="626.0" width="9.8" height="40.7" fill="#E0444B"/>
<rect x="1401.0" y="642.4" width="2" height="79.9" fill="#C8434A"/><rect x="1397.1" y="665.9" width="9.8" height="38.7" fill="#E0444B"/>
<rect x="1413.0" y="672.2" width="2" height="92.3" fill="#C8434A"/><rect x="1409.1" y="704.1" width="9.8" height="15.6" fill="#E0444B"/>
<rect x="1425.0" y="675.3" width="2" height="44.4" fill="#3E8F7A"/><rect x="1421.1" y="689.2" width="9.8" height="29.8" fill="#429882"/>
<rect x="1437.0" y="663.4" width="2" height="44.2" fill="#3E8F7A"/><rect x="1433.1" y="676.0" width="9.8" height="13.7" fill="#429882"/>
<rect x="1449.0" y="604.2" width="2" height="86.5" fill="#3E8F7A"/><rect x="1445.1" y="629.0" width="9.8" height="47.8" fill="#429882"/>
<rect x="1461.0" y="613.3" width="2" height="57.2" fill="#C8434A"/><rect x="1457.1" y="630.0" width="9.8" height="31.6" fill="#E0444B"/>
<rect x="1473.0" y="655.3" width="2" height="48.3" fill="#C8434A"/><rect x="1469.1" y="662.1" width="9.8" height="25.5" fill="#E0444B"/>
<rect x="1485.0" y="660.3" width="2" height="39.2" fill="#3E8F7A"/><rect x="1481.1" y="674.0" width="9.8" height="13.6" fill="#429882"/>
<rect x="1497.0" y="621.2" width="2" height="55.3" fill="#3E8F7A"/><rect x="1493.1" y="622.9" width="9.8" height="51.9" fill="#429882"/>
<rect x="1509.0" y="560.0" width="2" height="65.7" fill="#3E8F7A"/><rect x="1505.1" y="585.1" width="9.8" height="38.8" fill="#429882"/>
<rect x="1521.0" y="556.1" width="2" height="31.0" fill="#3E8F7A"/><rect x="1517.1" y="563.1" width="9.8" height="23.0" fill="#429882"/>
<rect x="1533.0" y="541.2" width="2" height="41.4" fill="#C8434A"/><rect x="1529.1" y="563.1" width="9.8" height="5.3" fill="#E0444B"/>
<rect x="1545.0" y="544.0" width="2" height="53.9" fill="#C8434A"/><rect x="1541.1" y="568.0" width="9.8" height="13.7" fill="#E0444B"/>
<rect x="1557.0" y="555.1" width="2" height="57.7" fill="#C8434A"/><rect x="1553.1" y="581.9" width="9.8" height="24.0" fill="#E0444B"/>
<rect x="1569.0" y="586.2" width="2" height="95.6" fill="#C8434A"/><rect x="1565.1" y="605.2" width="9.8" height="50.5" fill="#E0444B"/>
<rect x="1581.0" y="604.2" width="2" height="52.6" fill="#3E8F7A"/><rect x="1577.1" y="623.9" width="9.8" height="32.1" fill="#429882"/>
<rect x="1593.0" y="618.1" width="2" height="60.6" fill="#C8434A"/><rect x="1589.1" y="623.1" width="9.8" height="2.0" fill="#E0444B"/>
<rect x="1605.0" y="604.2" width="2" height="32.6" fill="#3E8F7A"/><rect x="1601.1" y="615.0" width="9.8" height="11.7" fill="#429882"/>
<rect x="1617.0" y="614.0" width="2" height="118.8" fill="#C8434A"/><rect x="1613.1" y="615.0" width="9.8" height="97.6" fill="#E0444B"/>
<rect x="1629.0" y="687.1" width="2" height="131.7" fill="#C8434A"/><rect x="1625.1" y="712.1" width="9.8" height="46.5" fill="#E0444B"/>
<rect x="1641.0" y="682.0" width="2" height="121.9" fill="#3E8F7A"/><rect x="1637.1" y="696.9" width="9.8" height="61.7" fill="#429882"/>
<rect x="1653.0" y="665.1" width="2" height="103.6" fill="#C8434A"/><rect x="1649.1" y="696.9" width="9.8" height="58.9" fill="#E0444B"/>
<rect x="1665.0" y="685.1" width="2" height="95.8" fill="#3E8F7A"/><rect x="1661.1" y="710.1" width="9.8" height="45.7" fill="#429882"/>
<rect x="1677.0" y="700.0" width="2" height="40.7" fill="#C8434A"/><rect x="1673.1" y="709.1" width="9.8" height="13.6" fill="#E0444B"/>
<rect x="1689.0" y="671.2" width="2" height="72.5" fill="#3E8F7A"/><rect x="1685.1" y="687.1" width="9.8" height="35.6" fill="#429882"/>
<rect x="1701.0" y="592.3" width="2" height="106.5" fill="#3E8F7A"/><rect x="1697.1" y="616.1" width="9.8" height="71.4" fill="#429882"/>
<rect x="1713.0" y="597.0" width="2" height="83.7" fill="#C8434A"/><rect x="1709.1" y="616.1" width="9.8" height="60.5" fill="#E0444B"/>
<rect x="1725.0" y="648.2" width="2" height="60.4" fill="#C8434A"/><rect x="1721.1" y="675.0" width="9.8" height="2.0" fill="#E0444B"/>
<rect x="1737.0" y="616.1" width="2" height="113.5" fill="#C8434A"/><rect x="1733.1" y="678.2" width="9.8" height="29.4" fill="#E0444B"/>
<rect x="1749.0" y="699.1" width="2" height="49.5" fill="#C8434A"/><rect x="1745.1" y="707.1" width="9.8" height="34.5" fill="#E0444B"/>
<rect x="1761.0" y="715.1" width="2" height="39.5" fill="#C8434A"/><rect x="1757.1" y="741.2" width="9.8" height="3.3" fill="#E0444B"/>
<rect x="1773.0" y="726.2" width="2" height="55.5" fill="#C8434A"/><rect x="1769.1" y="744.1" width="9.8" height="10.5" fill="#E0444B"/>
<rect x="1785.0" y="714.1" width="2" height="84.6" fill="#C8434A"/><rect x="1781.1" y="754.2" width="9.8" height="23.4" fill="#E0444B"/>
<rect x="1797.0" y="772.6" width="2" height="39.1" fill="#3E8F7A"/><rect x="1793.1" y="773.7" width="9.8" height="3.9" fill="#429882"/>
</g>
<g id="price-axis">
<text x="1942.9" y="62.2" font-size="24" fill="#15171E" textLength="96.5" lengthAdjust="spacingAndGlyphs">3.80000</text>
<text x="1942.9" y="151.2" font-size="24" fill="#15171E" textLength="96.5" lengthAdjust="spacingAndGlyphs">3.60000</text>
<text x="1942.9" y="239.2" font-size="24" fill="#15171E" textLength="96.5" lengthAdjust="spacingAndGlyphs">3.40000</text>
<text x="1942.9" y="327.2" font-size="24" fill="#15171E" textLength="96.5" lengthAdjust="spacingAndGlyphs">3.20000</text>
<text x="1942.9" y="416.2" font-size="24" fill="#15171E" textLength="96.5" lengthAdjust="spacingAndGlyphs">3.00000</text>
<text x="1942.9" y="504.2" font-size="24" fill="#15171E" textLength="96.5" lengthAdjust="spacingAndGlyphs">2.80000</text>
<text x="1942.9" y="592.2" font-size="24" fill="#15171E" textLength="96.5" lengthAdjust="spacingAndGlyphs">2.60000</text>
<text x="1942.9" y="681.2" font-size="24" fill="#15171E" textLength="96.5" lengthAdjust="spacingAndGlyphs">2.40000</text>
<text x="1942.9" y="769.2" font-size="24" fill="#15171E" textLength="96.5" lengthAdjust="spacingAndGlyphs">2.20000</text>
<text x="1942.9" y="857.2" font-size="24" fill="#15171E" textLength="96.5" lengthAdjust="spacingAndGlyphs">2.00000</text>
<text x="1942.9" y="946.2" font-size="24" fill="#15171E" textLength="96.5" lengthAdjust="spacingAndGlyphs">1.80000</text>
<text x="1942.9" y="1122.2" font-size="24" fill="#15171E" textLength="96.5" lengthAdjust="spacingAndGlyphs">1.40000</text>
<path d="M1926 757.2H2054a4 4 0 0 1 4 4V814.8a4 4 0 0 1 -4 4H1926Z" fill="#429882"/>
<text x="1942.8" y="783.0" font-size="24" fill="#fff" textLength="96.5" lengthAdjust="spacingAndGlyphs">2.16956</text>
<text x="1942.7" y="811.0" font-size="24" fill="#C8EDE3" textLength="103.2" lengthAdjust="spacingAndGlyphs">18:41:10</text>
<path d="M1926 1009.8H2040a4 4 0 0 1 4 4V1039.2a4 4 0 0 1 -4 4H1926Z" fill="#52A599"/>
<text x="1943.5" y="1035.6" font-size="24" fill="#fff" textLength="90.8" lengthAdjust="spacingAndGlyphs">18.83<tspan dx="-3">&#160;</tspan>M</text>
</g>
<g id="legend">
<g transform="translate(36.04 31.97)"><circle r="18" fill="#19181D"/><clipPath id="xc"><rect x="-12" y="-10" width="24" height="20"/></clipPath><g clip-path="url(#xc)" fill="none" stroke="#fff" stroke-width="2.3" stroke-linejoin="round"><path d="M-10.2 -12 L-3.2 -4.6 Q0 -1.5 3.2 -4.6 L10.2 -12"/><path d="M-10.2 12 L-3.2 4.6 Q0 1.5 3.2 4.6 L10.2 12"/></g></g>
<text x="62.9" y="43.5" font-size="30.9" fill="#15171E" textLength="60.7" lengthAdjust="spacingAndGlyphs">XRP</text>
<text x="131.7" y="43.5" font-size="30.9" fill="#15171E">/</text>
<text x="148.3" y="43.5" font-size="30.9" fill="#15171E" textLength="61.2" lengthAdjust="spacingAndGlyphs">U.S.</text>
<text x="216.8" y="43.5" font-size="30.9" fill="#15171E" textLength="84.8" lengthAdjust="spacingAndGlyphs">Dollar</text>
<text x="308.7" y="43.5" font-size="30.9" fill="#15171E">·</text>
<text x="326.7" y="43.5" font-size="30.9" fill="#15171E" textLength="41.4" lengthAdjust="spacingAndGlyphs">1D</text>
<text x="374.5" y="43.5" font-size="30.9" fill="#15171E">·</text>
<text x="391.1" y="43.5" font-size="30.9" fill="#15171E" textLength="129.1" lengthAdjust="spacingAndGlyphs">Bitstamp</text>
<circle cx="554.2" cy="31.9" r="17.6" fill="#E2EFEB"/><circle cx="554.2" cy="31.9" r="8.6" fill="#429882"/>
<text x="588.0" y="42.0" font-size="26" fill="#15171E" textLength="19.6" lengthAdjust="spacingAndGlyphs">O</text>
<text x="725.9" y="42.0" font-size="26" fill="#15171E" textLength="20.2" lengthAdjust="spacingAndGlyphs">H</text>
<text x="865.0" y="42.0" font-size="26" fill="#15171E" textLength="15.0" lengthAdjust="spacingAndGlyphs">L</text>
<text x="998.1" y="42.0" font-size="26" fill="#15171E" textLength="17.8" lengthAdjust="spacingAndGlyphs">C</text>
<text x="610.6" y="42.0" font-size="26" fill="#429882" textLength="104.2" lengthAdjust="spacingAndGlyphs">2.16170</text>
<text x="748.9" y="42.0" font-size="26" fill="#429882" textLength="104.0" lengthAdjust="spacingAndGlyphs">2.17408</text>
<text x="882.8" y="42.0" font-size="26" fill="#429882" textLength="103.4" lengthAdjust="spacingAndGlyphs">2.08300</text>
<text x="1019.8" y="42.0" font-size="26" fill="#429882" textLength="103.8" lengthAdjust="spacingAndGlyphs">2.16956</text>
<text x="1135.7" y="42.0" font-size="26" fill="#429882" textLength="120.3" lengthAdjust="spacingAndGlyphs">+0.00825</text>
<text x="1265.2" y="42.0" font-size="26" fill="#429882" textLength="113.7" lengthAdjust="spacingAndGlyphs">(+0.38%)</text>
<rect x="16.9" y="65.1" width="145.3" height="65.7" rx="8.5" fill="#fff" stroke="#E0444B" stroke-width="2"/>
<text transform="translate(39.0 92.0) scale(1.06 1)" font-size="23" fill="#E0444B" textLength="95.1" lengthAdjust="spacing" class="b">2.16925</text>
<text transform="translate(61.4 119.7) scale(1.05 1)" font-size="20.8" fill="#E0444B" textLength="51.9" lengthAdjust="spacing">SELL</text>
<text x="178.9" y="106.2" font-size="19.6" fill="#15171E" textLength="80.2" lengthAdjust="spacingAndGlyphs">0.00001</text>
<rect x="279.2" y="65.1" width="143.4" height="65.8" rx="8.5" fill="#fff" stroke="#3C63DD" stroke-width="2"/>
<text transform="translate(300.4 92.0) scale(1.06 1)" font-size="23" fill="#3C63DD" textLength="96.1" lengthAdjust="spacing" class="b">2.16926</text>
<text transform="translate(327.1 119.7) scale(1.05 1)" font-size="20.8" fill="#3C63DD" textLength="44.0" lengthAdjust="spacing">BUY</text>
<text x="18.6" y="174.3" font-size="26" fill="#15171E" textLength="36.9" lengthAdjust="spacingAndGlyphs">Vol</text>
<text x="62.1" y="174.3" font-size="26" fill="#15171E">·</text>
<text x="78.0" y="174.3" font-size="26" fill="#15171E" textLength="50.2" lengthAdjust="spacingAndGlyphs">XRP</text>
<text x="144.9" y="174.3" font-size="26" fill="#4C9F8C" textLength="99.0" lengthAdjust="spacingAndGlyphs">18.83<tspan dx="-3">&#160;</tspan>M</text>
<rect x="17.8" y="195.6" width="54.4" height="38.4" rx="6" fill="#fff" stroke="#D8D8DB" stroke-width="2.4"/>
<path d="M36.6 218.9L44.7 211.2L52.9 218.9" fill="none" stroke="#15171E" stroke-width="2.6" stroke-linecap="round" stroke-linejoin="round"/>
</g>
<g id="tv-logo">
<g fill="#fff" stroke="#fff" stroke-width="9.5" stroke-linejoin="round"><path d="M24.2 1068.3H48.2V1097.6H35.4V1083.2H24.2Z"/><circle cx="58.4" cy="1073.6" r="5.6"/><path d="M67 1068.3H83.8L73.4 1097.6H57.4Z"/><text x="97.5" y="1097.5" font-size="40.5" textLength="241.7" lengthAdjust="spacingAndGlyphs" class="b">TradingView</text></g>
<g fill="#131316"><path d="M24.2 1068.3H48.2V1097.6H35.4V1083.2H24.2Z"/><circle cx="58.4" cy="1073.6" r="5.6"/><path d="M67 1068.3H83.8L73.4 1097.6H57.4Z"/><text x="97.5" y="1097.5" font-size="40.5" textLength="241.7" lengthAdjust="spacingAndGlyphs" class="b">TradingView</text></g>
</g>
<g id="events">
<defs><clipPath id="fc"><circle cx="0" cy="0" r="15.8"/></clipPath><g id="flag"><circle r="23" fill="#fff"/><g clip-path="url(#fc)"><rect x="-16" y="-16" width="32" height="32" fill="#F7F5F6"/><rect x="-16" y="-16" width="32" height="6.9" fill="#DE5550"/><rect x="-16" y="-3.2" width="32" height="6.4" fill="#DE5550"/><rect x="-16" y="9.3" width="32" height="7" fill="#DE5550"/><rect x="-16" y="-16" width="19.4" height="19.2" fill="#3C7BD6"/><g fill="#F2F6FC"><polygon points="-6.20,-13.50 -5.67,-12.23 -4.30,-12.12 -5.34,-11.22 -5.02,-9.88 -6.20,-10.60 -7.38,-9.88 -7.06,-11.22 -8.10,-12.12 -6.73,-12.23"/><polygon points="-1.00,-13.50 -0.47,-12.23 0.90,-12.12 -0.14,-11.22 0.18,-9.88 -1.00,-10.60 -2.18,-9.88 -1.86,-11.22 -2.90,-12.12 -1.53,-12.23"/><polygon points="-11.50,-8.20 -10.97,-6.93 -9.60,-6.82 -10.64,-5.92 -10.32,-4.58 -11.50,-5.30 -12.68,-4.58 -12.36,-5.92 -13.40,-6.82 -12.03,-6.93"/><polygon points="-6.20,-8.20 -5.67,-6.93 -4.30,-6.82 -5.34,-5.92 -5.02,-4.58 -6.20,-5.30 -7.38,-4.58 -7.06,-5.92 -8.10,-6.82 -6.73,-6.93"/><polygon points="-1.00,-8.20 -0.47,-6.93 0.90,-6.82 -0.14,-5.92 0.18,-4.58 -1.00,-5.30 -2.18,-4.58 -1.86,-5.92 -2.90,-6.82 -1.53,-6.93"/><polygon points="-11.50,-3.00 -10.97,-1.73 -9.60,-1.62 -10.64,-0.72 -10.32,0.62 -11.50,-0.10 -12.68,0.62 -12.36,-0.72 -13.40,-1.62 -12.03,-1.73"/><polygon points="-6.20,-3.00 -5.67,-1.73 -4.30,-1.62 -5.34,-0.72 -5.02,0.62 -6.20,-0.10 -7.38,0.62 -7.06,-0.72 -8.10,-1.62 -6.73,-1.73"/><polygon points="-1.00,-3.00 -0.47,-1.73 0.90,-1.62 -0.14,-0.72 0.18,0.62 -1.00,-0.10 -2.18,0.62 -1.86,-0.72 -2.90,-1.62 -1.53,-1.73"/></g></g><circle r="20.6" fill="none" stroke="#DC444C" stroke-width="2.7"/></g></defs>
<use href="#flag" x="1822.2" y="1100"/>
<g><circle cx="1797.6" cy="1100.9" r="22.4" fill="#fff"/><circle cx="1797.6" cy="1100.9" r="19.7" fill="#fff" stroke="#8E24AA" stroke-width="2.7"/></g>
<use href="#flag" x="1809.8" y="1100"/>
</g>
<g id="time-axis">
<text x="100.0" y="1164.2" font-size="24" fill="#15171E" textLength="37.3" lengthAdjust="spacingAndGlyphs" class="b">Jul</text>
<text x="466.4" y="1164.2" font-size="24" fill="#15171E" textLength="48.2" lengthAdjust="spacingAndGlyphs" class="b">Aug</text>
<text x="838.8" y="1164.2" font-size="24" fill="#15171E" textLength="47.6" lengthAdjust="spacingAndGlyphs" class="b">Sep</text>
<text x="1200.2" y="1164.2" font-size="24" fill="#15171E" textLength="42.9" lengthAdjust="spacingAndGlyphs" class="b">Oct</text>
<text x="1569.5" y="1164.2" font-size="24" fill="#15171E" textLength="46.8" lengthAdjust="spacingAndGlyphs" class="b">Nov</text>
<g fill="none" stroke="#15171E" stroke-width="2.1" stroke-linejoin="miter"><path d="M1983.3 1154.9L1989.7 1142.8H2004.5L2010.9 1154.9L2004.5 1167H1989.7Z"/><circle cx="1997.1" cy="1154.9" r="3.9"/></g>
</g>
<g id="toolbar">
<rect x="0" y="1181.7" width="2068" height="2" fill="#E6E7EA"/>
<text x="29.1" y="1233.0" font-size="27.8" fill="#15171E" textLength="36.4" lengthAdjust="spacingAndGlyphs">1D</text>
<text x="89.8" y="1233.0" font-size="27.8" fill="#15171E" textLength="37.1" lengthAdjust="spacingAndGlyphs">5D</text>
<text x="151.4" y="1233.0" font-size="27.8" fill="#15171E" textLength="41.3" lengthAdjust="spacingAndGlyphs">1M</text>
<text x="216.4" y="1233.0" font-size="27.8" fill="#15171E" textLength="42.4" lengthAdjust="spacingAndGlyphs">3M</text>
<text x="281.2" y="1233.0" font-size="27.8" fill="#15171E" textLength="43.0" lengthAdjust="spacingAndGlyphs">6M</text>
<text x="347.9" y="1233.0" font-size="27.8" fill="#15171E" textLength="54.5" lengthAdjust="spacingAndGlyphs">YTD</text>
<text x="427.2" y="1233.0" font-size="27.8" fill="#15171E" textLength="34.0" lengthAdjust="spacingAndGlyphs">1Y</text>
<text x="486.2" y="1233.0" font-size="27.8" fill="#15171E" textLength="34.2" lengthAdjust="spacingAndGlyphs">5Y</text>
<text x="546.7" y="1233.0" font-size="27.8" fill="#15171E" textLength="31.9" lengthAdjust="spacingAndGlyphs">All</text>
<rect x="598" y="1200" width="2" height="44" fill="#E6E7EA"/>
<g fill="none" stroke="#15171E" stroke-width="2" stroke-linecap="butt" stroke-linejoin="miter"><path d="M628.95 1219.7V1211.5a4.6 4.6 0 0 1 4.6 -4.6H658.3a4.6 4.6 0 0 1 4.6 4.6V1232.3a4.6 4.6 0 0 1 -4.6 4.6H646.1"/><path d="M628.95 1214.9H662.9"/><path d="M638.9 1202V1209.9"/><path d="M652.9 1202V1209.9"/><path d="M626 1231H640.5"/><path d="M634.2 1224.1L641.1 1231L634.2 1237.9"/></g>
<text x="1787.5" y="1231.9" font-size="27.7" fill="#15171E" textLength="260.0" lengthAdjust="spacingAndGlyphs">10:48:50 UTC+5:30</text>
</g>
</svg></div></body></html>
